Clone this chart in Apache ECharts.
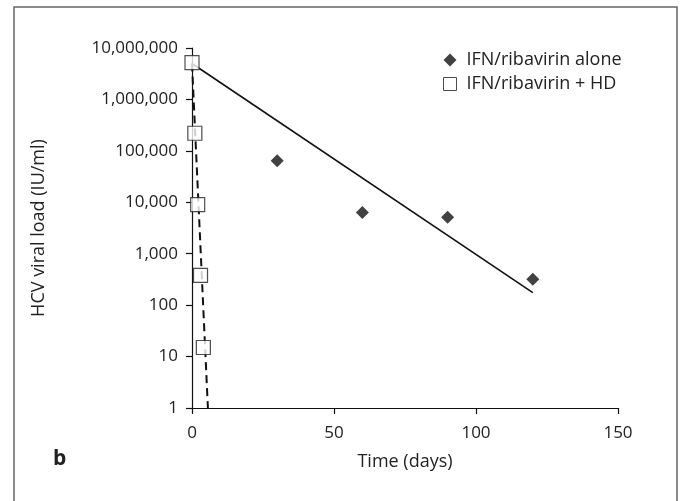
<!DOCTYPE html>
<html>
<head>
<meta charset="utf-8">
<script src="https://cdn.jsdelivr.net/npm/echarts@6/dist/echarts.min.js"></script>
<style>
html,body{margin:0;padding:0;background:#fff;}
#main{width:683px;height:501px;}
</style>
</head>
<body>
<div id="main"></div>
<script>
// Data
var seriesNames = ['IFN/ribavirin alone', 'IFN/ribavirin + HD'];
var aloneDays = [30, 60, 90, 120];
var aloneLoad = [64000, 6300, 5100, 320];
var hdDays = [0, 1, 2, 3, 4];
var hdLoad = [5200000, 220000, 9000, 380, 15];
// trend line endpoints
var aloneTrendDays = [0, 120];
var aloneTrendLoad = [5000000, 175];
var hdTrendDays = [0, 5.6];
var hdTrendLoad = [5000000, 1];
var xTicks = [0, 50, 100, 150];
var yTicks = [1, 10, 100, 1000, 10000, 100000, 1000000, 10000000];

function pairs(xs, ys){ return xs.map(function(x,i){ return [x, ys[i]]; }); }

var FONT = 'Open Sans';
var chart = echarts.init(document.getElementById('main'), null, {renderer:'canvas'});
chart.setOption({
  animation:false,
  backgroundColor:'#fff',
  textStyle:{fontFamily:FONT},
  grid:{left:192, right:65, top:48, bottom:93, containLabel:false},
  legend:{
    data:[
      {name:seriesNames[0], icon:'diamond', itemStyle:{color:'#111', borderWidth:0}},
      {name:seriesNames[1], icon:'rect', itemStyle:{color:'#fff', borderColor:'#222', borderWidth:1}}
    ],
    orient:'vertical', left:438, top:46,
    itemWidth:13, itemHeight:13, itemGap:6,
    textStyle:{fontFamily:FONT, fontSize:18, color:'#222', padding:[0,0,0,5]},
    selectedMode:false
  },
  xAxis:{
    type:'value', min:xTicks[0], max:xTicks[xTicks.length-1], interval:50,
    name:'Time (days)', nameLocation:'middle', nameGap:45,
    nameTextStyle:{fontFamily:FONT, fontSize:18, color:'#222'},
    axisLine:{show:true, lineStyle:{color:'#111', width:1.2}},
    axisTick:{show:true, inside:false, length:6, lineStyle:{color:'#111', width:1.2}},
    axisLabel:{fontFamily:FONT, fontSize:17, color:'#222', margin:17},
    splitLine:{show:false}
  },
  yAxis:{
    type:'log', logBase:10, min:yTicks[0], max:yTicks[yTicks.length-1],
    name:'HCV viral load (IU/ml)', nameLocation:'middle', nameGap:144,
    nameTextStyle:{fontFamily:FONT, fontSize:18, color:'#222'},
    axisLine:{show:true, lineStyle:{color:'#111', width:1.2}},
    axisTick:{show:true, inside:false, length:6, lineStyle:{color:'#111', width:1.2}},
    axisLabel:{fontFamily:FONT, fontSize:17, color:'#222', margin:14,
      formatter:function(v){ return Math.round(v).toLocaleString('en-US'); }},
    splitLine:{show:false}
  },
  series:[
    {
      name:'aloneTrend', type:'line', data:pairs(aloneTrendDays, aloneTrendLoad),
      showSymbol:false, symbol:'none', lineStyle:{color:'#111', width:1.6}, z:1, silent:true
    },
    {
      name:'hdTrend', type:'line', data:pairs(hdTrendDays, hdTrendLoad),
      showSymbol:false, symbol:'none', lineStyle:{color:'#111', width:2, type:[8,5]}, z:1, silent:true
    },
    {
      name:seriesNames[0], type:'scatter', data:pairs(aloneDays, aloneLoad),
      symbol:'diamond', symbolSize:13, itemStyle:{color:'#111'}, z:3
    },
    {
      name:seriesNames[1], type:'scatter', data:pairs(hdDays, hdLoad),
      symbol:'rect', symbolSize:14, itemStyle:{color:'#fff', borderColor:'#222', borderWidth:1.2}, z:4
    }
  ],
  graphic:[
    {type:'rect', shape:{x:14, y:7, width:663, height:520}, style:{fill:'none', stroke:'#666', lineWidth:1.5}, silent:true},
    {type:'text', left:53, top:449, style:{text:'b', fontFamily:FONT, fontWeight:'bold', fontSize:21, fill:'#222'}}
  ]
});
</script>
</body>
</html>
